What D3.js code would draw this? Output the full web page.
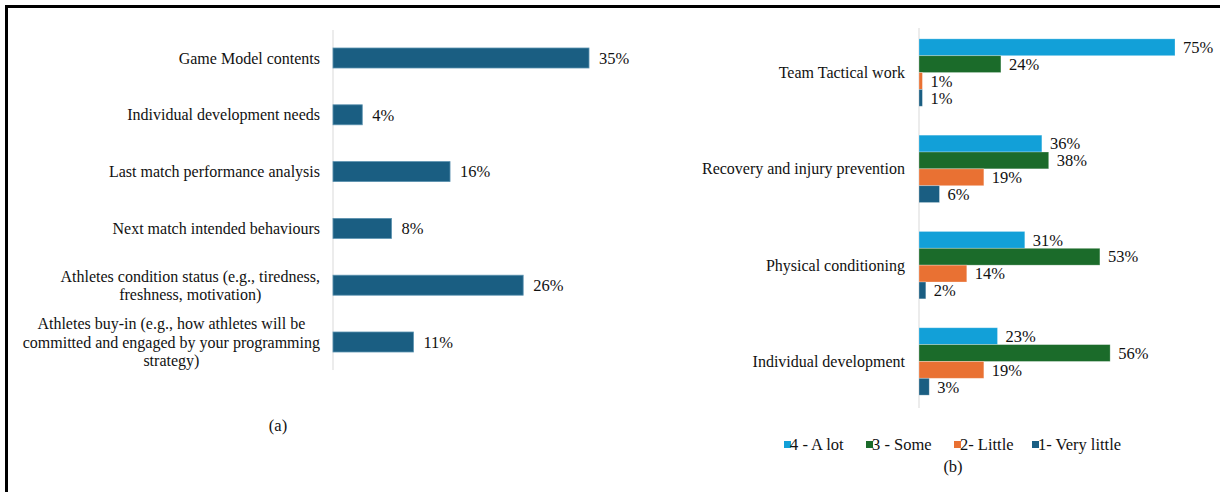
<!DOCTYPE html>
<html>
<head>
<meta charset="utf-8">
<script src="https://cdn.jsdelivr.net/npm/d3@7"></script>
<style>
  body { margin: 0; background: #fff; }
  text { font-family: "Liberation Serif", "Times New Roman", serif; fill: #111; }
</style>
</head>
<body>
<svg id="chart"></svg>
<script>
const width = 1220;
const height = 492;

// panel (a)
const topics = [
  "Game Model contents",
  "Individual development needs",
  "Last match performance analysis",
  "Next match intended behaviours",
  "Athletes condition status (e.g., tiredness,\nfreshness, motivation)",
  "Athletes buy-in (e.g., how athletes will be\ncommitted and engaged by your programming\nstrategy)"
];
const topicShares = [35, 4, 16, 8, 26, 11];

// panel (b)
const areas = ["Team Tactical work", "Recovery and injury prevention", "Physical conditioning", "Individual development"];
const levels = ["4 - A lot", "3 - Some", "2- Little", "1- Very little"];
const aLot = [75, 36, 31, 23];
const some = [24, 38, 53, 56];
const little = [1, 19, 14, 19];
const veryLittle = [1, 6, 2, 3];
const levelColors = ["#12a0d8", "#1b6b2a", "#e97133", "#1a5e82"];

const fs = "16.5px";

const svg = d3.select("#chart")
  .attr("width", width)
  .attr("height", height)

// frame (top and left edges only)
svg.append("path")
  .attr("d", "M6.5,492V6.5H1220")
  .attr("fill", "none")
  .attr("stroke", "#000")
  .attr("stroke-width", 3);

// ---------- (a) ----------
const xa = d3.scaleLinear().domain([0, 35]).range([333, 589]);
const ya = d3.scaleBand().domain(topics).range([30, 370]).paddingInner(0.648).paddingOuter(0.317);

const ga = svg.append("g");
ga.append("line")
  .attr("x1", xa(0)).attr("x2", xa(0))
  .attr("y1", 30).attr("y2", 370)
  .attr("stroke", "#d9d9d9");

ga.selectAll("rect")
  .data(topics)
  .join("rect")
  .attr("x", xa(0))
  .attr("y", d => ya(d))
  .attr("width", (d, i) => xa(topicShares[i]) - xa(0))
  .attr("height", ya.bandwidth())
  .attr("fill", "#1a5e82")
  .attr("stroke", "#5b92b0")
  .attr("stroke-width", 0.8);

ga.selectAll(".val")
  .data(topics)
  .join("text")
  .attr("class", "val")
  .attr("x", (d, i) => xa(topicShares[i]) + 10)
  .attr("y", d => ya(d) + ya.bandwidth() / 2)
  .attr("dy", "0.35em")
  .style("font-size", fs)
  .text((d, i) => topicShares[i] + "%");

// category labels: lines centred, block right-aligned to the axis
topics.forEach(t => {
  const lines = t.split("\n");
  const cy = ya(t) + ya.bandwidth() / 2;
  const lh = 18.5;
  const txt = ga.append("text").style("font-size", "16px").attr("text-anchor", "middle");
  lines.forEach((l, j) => {
    txt.append("tspan")
      .attr("y", cy + (j - (lines.length - 1) / 2) * lh)
      .attr("dy", "0.35em")
      .text(l);
  });
  let maxW = 0;
  txt.selectAll("tspan").each(function() { maxW = Math.max(maxW, this.getComputedTextLength()); });
  txt.selectAll("tspan").attr("x", 320 - maxW / 2);
});

svg.append("text")
  .attr("x", 278).attr("y", 425).attr("dy", "0.35em")
  .attr("text-anchor", "middle")
  .style("font-size", fs)
  .text("(a)");

// ---------- (b) ----------
const series = [aLot, some, little, veryLittle];
const xb = d3.scaleLinear().domain([0, 75]).range([919, 1175]);
const yb = d3.scaleBand().domain(areas).range([24.4, 409.6]).paddingInner(0.3).paddingOuter(0.15);
const yInner = d3.scaleBand().domain(levels).range([0, yb.bandwidth()]);

const gb = svg.append("g");
gb.append("line")
  .attr("x1", xb(0)).attr("x2", xb(0))
  .attr("y1", 28).attr("y2", 408)
  .attr("stroke", "#d9d9d9");

const cells = [];
areas.forEach((a, i) => levels.forEach((l, j) => cells.push({ area: a, level: l, value: series[j][i], k: j })));

gb.selectAll("rect")
  .data(cells)
  .join("rect")
  .attr("x", xb(0))
  .attr("y", d => yb(d.area) + yInner(d.level))
  .attr("width", d => xb(d.value) - xb(0))
  .attr("height", yInner.bandwidth())
  .attr("fill", d => levelColors[d.k])
  .attr("stroke", "#ffffff")
  .attr("stroke-opacity", 0.35)
  .attr("stroke-width", 0.8);

gb.selectAll(".val")
  .data(cells)
  .join("text")
  .attr("class", "val")
  .attr("x", d => xb(d.value) + 8)
  .attr("y", d => yb(d.area) + yInner(d.level) + yInner.bandwidth() / 2)
  .attr("dy", "0.35em")
  .style("font-size", fs)
  .text(d => d.value + "%");

gb.selectAll(".cat")
  .data(areas)
  .join("text")
  .attr("class", "cat")
  .attr("x", 905)
  .attr("y", d => yb(d) + yb.bandwidth() / 2)
  .attr("dy", "0.35em")
  .attr("text-anchor", "end")
  .style("font-size", "16px")
  .text(d => d);

// legend
const legendX = [784, 866, 954, 1032];
levels.forEach((l, j) => {
  svg.append("rect")
    .attr("x", legendX[j]).attr("y", 441)
    .attr("width", 7).attr("height", 7)
    .attr("fill", levelColors[j]);
  svg.append("text")
    .attr("x", legendX[j] + 6).attr("y", 444.5).attr("dy", "0.35em")
    .style("font-size", fs)
    .text(l);
});

svg.append("text")
  .attr("x", 953).attr("y", 466).attr("dy", "0.35em")
  .attr("text-anchor", "middle")
  .style("font-size", fs)
  .text("(b)");
</script>
</body>
</html>
